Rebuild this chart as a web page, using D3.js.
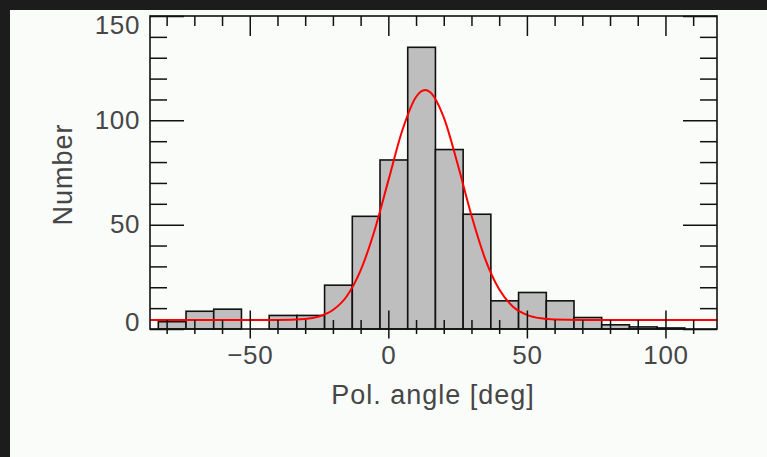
<!DOCTYPE html>
<html>
<head>
<meta charset="utf-8">
<script src="https://cdn.jsdelivr.net/npm/d3@7"></script>
<style>
  html, body { margin: 0; padding: 0; background: #1c1c1c; }
  svg { display: block; }
  text { font-family: "Liberation Sans", Arial, sans-serif; fill: #464646; }
</style>
</head>
<body>
<svg id="chart"></svg>
<script>
// histogram bins (left edge in deg, width 10)
const binLeft = [-83, -73, -63, -53, -43, -33, -23, -13, -3, 7, 17, 27, 37, 47, 57, 67, 77, 87, 97];
const binWidth = 10;
const counts = [3.5, 8.5, 9.5, 0, 6.5, 6.5, 21, 54, 81, 135, 86, 55, 13.5, 17.5, 13.5, 5.5, 2, 1, 0.5];

// fitted curve
const fitX = [-86, -40, -30, -25, -20, -15, -10, -5, 0, 5, 10, 13.3, 15, 20, 25, 30, 35, 40, 45, 50, 55, 60, 70, 118.6];
const fitY = [4.3, 4.3, 4.8, 6.0, 9.1, 15.7, 28.1, 47.1, 71.1, 95.0, 111.2, 114.5, 113.6, 101.4, 79.1, 54.4, 33.4, 19.0, 10.7, 6.8, 5.1, 4.5, 4.3, 4.3];

const xMajor = [-50, 0, 50, 100];
const xMinor = [-80, -70, -60, -40, -30, -20, -10, 10, 20, 30, 40, 60, 70, 80, 90, 110];
const yMajor = [0, 50, 100, 150];
const yMinor = [10, 20, 30, 40, 60, 70, 80, 90, 110, 120, 130, 140];

const W = 767, H = 457;
const pLeft = 150, pRight = 717, pTop = 16, pBottom = 329;

const svg = d3.select('#chart').attr('width', W).attr('height', H);

// page background with dark strips top/left
svg.append('rect').attr('x', 10).attr('y', 10).attr('width', W - 10).attr('height', H - 10).attr('fill', '#fafcfa');

const x = d3.scaleLinear().domain([-86, 118.6]).range([pLeft, pRight]);
const y = d3.scaleLinear().domain([0, 150]).range([pBottom, pTop]);

const plot = svg.append('g');
plot.append('clipPath').attr('id', 'clip')
  .append('rect').attr('x', pLeft).attr('y', pTop).attr('width', pRight - pLeft).attr('height', pBottom - pTop);

// bars
plot.selectAll('.bar')
  .data(binLeft.map((b, i) => ({ b, c: counts[i] })))
  .enter().append('rect')
  .attr('class', 'bar')
  .attr('x', d => x(d.b))
  .attr('y', d => y(d.c))
  .attr('width', d => x(d.b + binWidth) - x(d.b))
  .attr('height', d => y(0) - y(d.c))
  .attr('fill', '#bebebe')
  .attr('stroke', '#111')
  .attr('stroke-width', 1.6);

// red fit
const line = d3.line()
  .x((d, i) => x(fitX[i]))
  .y(d => y(d))
  .curve(d3.curveMonotoneX);

plot.append('path')
  .datum(fitY)
  .attr('clip-path', 'url(#clip)')
  .attr('fill', 'none')
  .attr('stroke', '#ff0000')
  .attr('stroke-width', 2)
  .attr('d', line);

// helper to draw tick-only axes
function ticks(axis, pos, vals, size) {
  const g = svg.append('g')
    .attr('transform', pos)
    .call(axis.tickValues(vals).tickSize(size).tickFormat(''));
  g.select('.domain').remove();
  g.selectAll('line').attr('stroke', '#111').attr('stroke-width', 1.5);
  return g;
}

// bottom ticks (cross the frame a bit)
ticks(d3.axisBottom(x), `translate(0,${pBottom + 5})`, xMinor, -14);
ticks(d3.axisBottom(x), `translate(0,${pBottom + 9.5})`, xMajor, -28);
// top
ticks(d3.axisTop(x), `translate(0,${pTop})`, xMinor, -10);
ticks(d3.axisTop(x), `translate(0,${pTop})`, xMajor, -20);
// left
ticks(d3.axisLeft(y), `translate(${pLeft},0)`, yMinor, -17);
ticks(d3.axisLeft(y), `translate(${pLeft},0)`, yMajor, -34);
// right
ticks(d3.axisRight(y), `translate(${pRight},0)`, yMinor, -17);
ticks(d3.axisRight(y), `translate(${pRight},0)`, yMajor, -34);

// frame
svg.append('rect')
  .attr('x', pLeft).attr('y', pTop)
  .attr('width', pRight - pLeft).attr('height', pBottom - pTop)
  .attr('fill', 'none').attr('stroke', '#111').attr('stroke-width', 1.6);

// tick labels
const xl = svg.append('g')
  .attr('transform', `translate(0,${pBottom})`)
  .call(d3.axisBottom(x).tickValues(xMajor).tickSize(0).tickPadding(17)
    .tickFormat(d => d < 0 ? '\u2212' + Math.abs(d) : d));
xl.select('.domain').remove();
xl.selectAll('text').style('font-size', '26px').style('letter-spacing', '0.6px').attr('fill', '#464646');

const yl = svg.append('g')
  .attr('transform', `translate(${pLeft},0)`)
  .call(d3.axisLeft(y).tickValues(yMajor).tickSize(0).tickPadding(10));
yl.select('.domain').remove();
yl.selectAll('text').style('font-size', '26px').style('letter-spacing', '0.6px').attr('fill', '#464646');
// end labels pulled inside, as in the original
yl.selectAll('.tick').filter(d => d === 150).select('text').attr('y', 9);
yl.selectAll('.tick').filter(d => d === 0).select('text').attr('y', -7);

// axis titles
svg.append('text')
  .attr('x', 433)
  .attr('y', 404)
  .attr('text-anchor', 'middle')
  .style('font-size', '27px')
  .style('letter-spacing', '1px')
  .text('Pol. angle [deg]');

svg.append('text')
  .attr('transform', `translate(72,${(pTop + pBottom) / 2 + 2}) rotate(-90)`)
  .attr('text-anchor', 'middle')
  .style('font-size', '27px')
  .style('letter-spacing', '1px')
  .text('Number');
</script>
</body>
</html>
